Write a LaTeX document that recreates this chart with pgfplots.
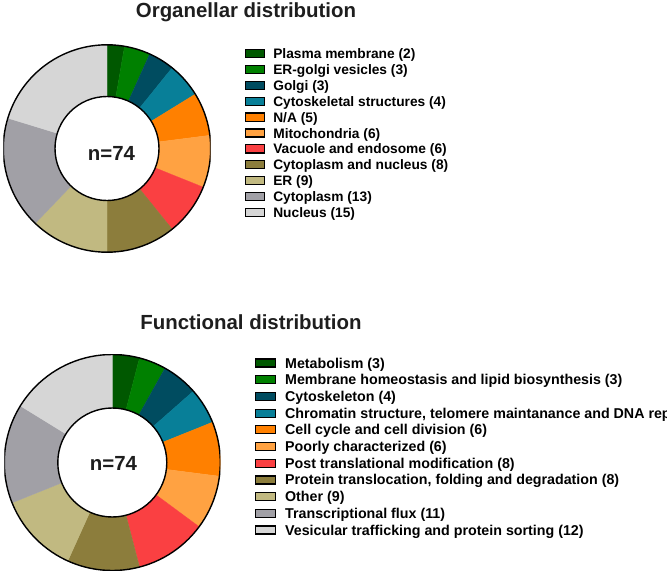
\documentclass[border=0pt]{standalone}
\usepackage{pgfplots}
\pgfplotsset{compat=1.18}
\usepackage{pgfplotstable}
\usepackage{fontspec}
\setmainfont{Liberation Sans}

\definecolor{c1}{RGB}{0,88,0}
\definecolor{c2}{RGB}{0,128,0}
\definecolor{c3}{RGB}{0,76,96}
\definecolor{c4}{RGB}{8,127,152}
\definecolor{c5}{RGB}{255,128,0}
\definecolor{c6}{RGB}{255,162,66}
\definecolor{c7}{RGB}{250,64,66}
\definecolor{c8}{RGB}{140,125,60}
\definecolor{c9}{RGB}{193,185,129}
\definecolor{c10}{RGB}{161,160,166}
\definecolor{c11}{RGB}{214,214,214}
\definecolor{titlegray}{RGB}{30,30,30}

\pgfplotstableread[col sep=semicolon]{
label;count;color
Plasma membrane (2);2;c1
ER-golgi vesicles (3);3;c2
Golgi (3);3;c3
Cytoskeletal structures (4);4;c4
N/A (5);5;c5
Mitochondria (6);6;c6
Vacuole and endosome (6);6;c7
Cytoplasm and nucleus (8);8;c8
ER (9);9;c9
Cytoplasm (13);13;c10
Nucleus (15);15;c11
}\orgdata

\pgfplotstableread[col sep=semicolon]{
label;count;color
Metabolism (3);3;c1
Membrane homeostasis and lipid biosynthesis (3);3;c2
Cytoskeleton (4);4;c3
Chromatin structure, telomere maintanance and DNA repair (4);4;c4
Cell cycle and cell division (6);6;c5
Poorly characterized (6);6;c6
Post translational modification (8);8;c7
Protein translocation, folding and degradation (8);8;c8
Other (9);9;c9
Transcriptional flux (11);11;c10
Vesicular trafficking and protein sorting (12);12;c11
}\fundata

% #1 table, #2 outer radius (bp), #3 inner radius (bp)
\newcommand\donut[3]{%
  \pgfplotstablegetrowsof{#1}%
  \pgfmathtruncatemacro\lastrow{\pgfplotsretval-1}%
  \xdef\total{0}%
  \pgfplotsforeachungrouped \k in {0,...,\lastrow}{%
    \pgfplotstablegetelem{\k}{count}\of#1%
    \pgfmathtruncatemacro\tmpv{\total+\pgfplotsretval}\xdef\total{\tmpv}}%
  \pgfmathsetmacro\ring{#2-#3}%
  \xdef\cumsum{0}%
  \pgfplotsinvokeforeach{0,...,\lastrow}{%
    \pgfplotstablegetelem{##1}{count}\of#1\pgfmathtruncatemacro\cnt{\pgfplotsretval}%
    \pgfmathsetmacro\angA{90-\cumsum/\total*360}%
    \pgfmathtruncatemacro\tmpv{\cumsum+\cnt}\xdef\cumsum{\tmpv}%
    \pgfmathsetmacro\angB{90-\cumsum/\total*360}%
    \pgfmathsetmacro\angC{\angB+180}%
    \pgfplotstablegetelem{##1}{color}\of#1\edef\col{\pgfplotsretval}%
    \pgfplotstablegetelem{##1}{label}\of#1\edef\lab{\pgfplotsretval}%
    \edef\temp{%
      \noexpand\fill[\col,draw=\col,line width=0.3bp] (axis cs:0,0) ++(\angA:#2bp) arc[start angle=\angA,end angle=\angB,radius=#2bp] -- ++(\angC:\ring bp) arc[start angle=\angB,end angle=\angA,radius=#3bp] -- cycle;%
      \noexpand\addlegendimage{fill=\col}%
      \noexpand\addlegendentry{\lab}%
    }\temp
  }%
  \draw[line width=1.4bp] (axis cs:0,0) circle[radius=#2bp];
  \draw[line width=1.4bp] (axis cs:0,0) circle[radius=#3bp];
}

\pgfplotsset{
  donutaxis/.style={
    anchor=center, scale only axis, hide axis,
    xmin=-1, xmax=1, ymin=-1, ymax=1,
    legend cell align=left,
  },
}

\newcommand\legfontA{\fontsize{13.8}{16}\selectfont\bfseries}
\newcommand\legfontB{\fontsize{14.3}{17}\selectfont\bfseries}
\newcommand\titlefont{\fontsize{20.5}{24}\selectfont\bfseries}

\begin{document}
\begin{tikzpicture}
\path[use as bounding box] (0,0) rectangle (667bp,-574bp);
\clip (0,0) rectangle (667bp,-574bp);

\node[anchor=base, text=titlegray, font=\titlefont, inner sep=0pt] at (246bp,-17.5bp) {Organellar distribution};
\node[anchor=base, text=titlegray, font=\titlefont, inner sep=0pt] at (251bp,-329.5bp) {Functional distribution};

\begin{axis}[donutaxis,
  at={(107bp,-148.5bp)}, width=207.4bp, height=207.4bp,
  legend style={draw=none, fill=none, inner sep=0pt, outer sep=0pt,
    at={(1.1654,0.9964)}, anchor=north west, font=\legfontA, row sep=0pt,
    nodes={font=\legfontA, inner xsep=0pt, inner ysep=0.55bp, text height=12.4bp, text depth=2.4bp}},
  legend image code/.code={%
      \draw[#1,draw=black,line width=1.2bp] (0bp,-4bp) rectangle (18.5bp,4bp);
      \path (27.5bp,0bp);
  },
]
\donut{\orgdata}{103.7}{52}
\end{axis}

\begin{axis}[donutaxis,
  at={(112.3bp,-462.5bp)}, width=216bp, height=216bp,
  legend style={draw=none, fill=none, inner sep=0pt, outer sep=0pt,
    at={(1.16,0.9993)}, anchor=north west, font=\legfontB, row sep=0pt,
    nodes={font=\legfontB, inner xsep=0pt, inner ysep=0.55bp, text height=12.8bp, text depth=2.8bp}},
  legend image code/.code={%
      \draw[#1,draw=black,line width=1.2bp] (0bp,-4bp) rectangle (20bp,4bp);
      \path (29.5bp,0bp);
  },
]
\donut{\fundata}{108}{54.5}
\end{axis}

\node[anchor=base, text=titlegray, font=\titlefont, inner sep=0pt] at (111.5bp,-160bp) {n=74};
\node[anchor=base, text=titlegray, font=\titlefont, inner sep=0pt] at (113.5bp,-470bp) {n=74};
\end{tikzpicture}
\end{document}
